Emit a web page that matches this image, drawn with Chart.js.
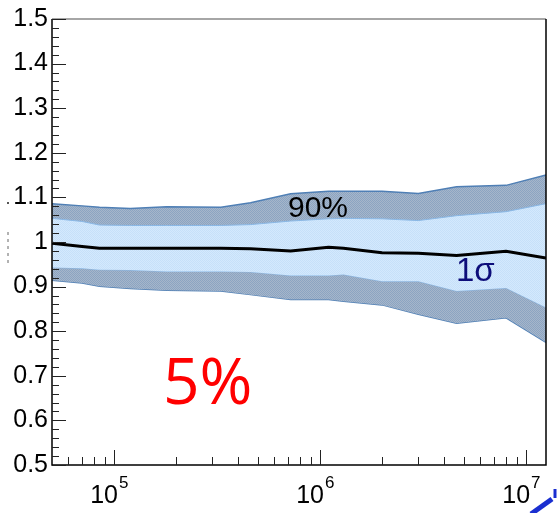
<!DOCTYPE html>
<html>
<head>
<meta charset="utf-8">
<script src="https://cdn.jsdelivr.net/npm/chart.js@4/dist/chart.umd.min.js"></script>
<style>
html, body { margin: 0; padding: 0; background: #fff; }
</style>
</head>
<body>
<canvas id="chart" width="557" height="513"></canvas>
<script>
// x positions of the band points
var xs = [5e4, 7e4, 8.5e4, 1.2e5, 1.8e5, 3.3e5, 4.6e5, 7.2e5, 1.1e6, 1.3e6, 2e6, 3e6, 4.6e6, 8e6, 1.25e7];
var median = [0.997, 0.990, 0.986, 0.986, 0.986, 0.986, 0.985, 0.980, 0.988, 0.986, 0.976, 0.975, 0.970, 0.979, 0.964];
var sigmaUp = [1.053, 1.046, 1.038, 1.037, 1.037, 1.037, 1.039, 1.047, 1.052, 1.053, 1.052, 1.048, 1.059, 1.068, 1.086];
var sigmaLow = [0.943, 0.941, 0.938, 0.937, 0.934, 0.934, 0.933, 0.925, 0.925, 0.927, 0.912, 0.912, 0.890, 0.897, 0.853];
var ninetyUp = [1.086, 1.081, 1.078, 1.075, 1.079, 1.078, 1.088, 1.108, 1.114, 1.114, 1.114, 1.109, 1.124, 1.127, 1.150];
var ninetyLow = [0.914, 0.908, 0.901, 0.896, 0.892, 0.890, 0.882, 0.871, 0.871, 0.867, 0.859, 0.838, 0.818, 0.830, 0.775];
var xDecades = [5, 6, 7];

function pts(vals) {
    return vals.map(function (v, i) { return { x: xs[i], y: v }; });
}

function makePattern(a, b) {
    var p = document.createElement('canvas');
    p.width = 2; p.height = 2;
    var c = p.getContext('2d');
    c.fillStyle = a; c.fillRect(0, 0, 2, 2);
    c.fillStyle = b; c.fillRect(0, 0, 1, 1); c.fillRect(1, 1, 1, 1);
    return c.createPattern(p, 'repeat');
}

var ctx = document.getElementById('chart').getContext('2d');
var outerFill = makePattern('#a6b6ca', '#8ba4c2');
var innerFill = makePattern('#d4e9fd', '#c6e0f9');

var framePlugin = {
    id: 'frame',
    afterDraw: function (chart) {
        var c = chart.ctx, a = chart.chartArea;
        var xs_ = chart.scales.x, ys_ = chart.scales.y;
        c.save();
        // frame
        c.lineWidth = 1.5;
        c.strokeStyle = '#888';
        c.beginPath(); c.moveTo(a.left, a.top); c.lineTo(a.right, a.top); c.stroke();
        c.strokeStyle = '#000';
        c.beginPath();
        c.moveTo(a.right, a.top); c.lineTo(a.right, a.bottom);
        c.lineTo(a.left, a.bottom); c.lineTo(a.left, a.top);
        c.stroke();

        // y ticks (inside)
        c.lineWidth = 1;
        c.strokeStyle = '#222';
        ys_.ticks.forEach(function (t) {
            var y = Math.round(ys_.getPixelForValue(t.value)) + 0.5;
            var major = Math.abs(t.value * 10 - Math.round(t.value * 10)) < 1e-6;
            c.beginPath(); c.moveTo(a.left, y); c.lineTo(a.left + (major ? 14 : 7), y); c.stroke();
        });
        // x ticks (inside)
        xs_.ticks.forEach(function (t) {
            var m = t.value / Math.pow(10, Math.floor(Math.log10(t.value) + 1e-9));
            if (Math.abs(m - Math.round(m)) > 1e-6) return;
            var x = Math.round(xs_.getPixelForValue(t.value)) + 0.5;
            if (x < a.left + 2 || x > a.right - 2) return;
            var major = Math.abs(m - 1) < 1e-6;
            c.beginPath(); c.moveTo(x, a.bottom); c.lineTo(x, a.bottom - (major ? 15 : 8)); c.stroke();
        });

        // x labels 10^n
        c.fillStyle = '#000';
        c.textBaseline = 'alphabetic';
        xDecades.forEach(function (p) {
            var x = xs_.getPixelForValue(Math.pow(10, p));
            c.font = '25px "Liberation Sans", Arial, sans-serif';
            c.textAlign = 'right';
            c.fillText('10', x + 4, 503);
            c.font = '17px "Liberation Sans", Arial, sans-serif';
            c.textAlign = 'left';
            c.fillText(String(p), x + 5, 488);
        });

        // annotations
        c.textAlign = 'left';
        c.font = '30px "Liberation Sans", Arial, sans-serif';
        c.fillStyle = '#000';
        c.fillText('90%', 288, 217);
        c.font = '33px "Liberation Sans", Arial, sans-serif';
        c.fillStyle = '#0d0d7a';
        c.fillText('1\u03c3', 456, 281);
        c.font = '64px "Open Sans", sans-serif';
        c.fillStyle = '#ff0000';
        c.fillText('5%', 163, 404);

        // stray marks at the edges of the crop
        c.fillStyle = '#555';
        c.fillRect(7, 202, 2, 2);
        c.setLineDash([3, 4]);
        c.strokeStyle = '#666';
        c.beginPath(); c.moveTo(8, 232); c.lineTo(8, 264); c.stroke();
        c.setLineDash([]);
        c.strokeStyle = '#1a2fd0';
        c.lineWidth = 5;
        c.beginPath(); c.moveTo(531, 514); c.lineTo(552, 499); c.stroke();
        c.lineWidth = 3;
        c.beginPath(); c.moveTo(555, 489); c.lineTo(555, 498); c.stroke();
        c.restore();
    }
};

var chart = new Chart(ctx, {
    type: 'line',
    data: {
        datasets: [
            { data: pts(median), borderColor: '#000', borderWidth: 3, pointRadius: 0, fill: false },
            { data: pts(sigmaUp), borderColor: '#8ab8e6', borderWidth: 1, pointRadius: 0, backgroundColor: innerFill, fill: '+1' },
            { data: pts(sigmaLow), borderColor: '#8ab8e6', borderWidth: 1, pointRadius: 0, fill: false },
            { data: pts(ninetyUp), borderColor: '#4f7fb5', borderWidth: 1.5, pointRadius: 0, backgroundColor: outerFill, fill: '+1' },
            { data: pts(ninetyLow), borderColor: '#4f7fb5', borderWidth: 1.5, pointRadius: 0, fill: false }
        ]
    },
    options: {
        responsive: false,
        animation: false,
        layout: { padding: { top: 16, right: 11, left: 0, bottom: 0 } },
        plugins: { legend: { display: false }, tooltip: { enabled: false } },
        elements: { line: { tension: 0 } },
        scales: {
            x: {
                type: 'logarithmic',
                min: 5e4,
                max: 1.25e7,
                grid: { display: false },
                border: { display: false },
                ticks: { display: false, autoSkip: false },
                afterFit: function (s) { s.height = 48; }
            },
            y: {
                min: 0.5,
                max: 1.5,
                grid: { display: false, drawTicks: false },
                border: { display: false },
                ticks: {
                    stepSize: 0.02,
                    autoSkip: false,
                    padding: 4,
                    color: '#000',
                    font: { family: '"Liberation Sans", Arial, sans-serif', size: 25 },
                    callback: function (v) {
                        if (Math.abs(v * 10 - Math.round(v * 10)) > 1e-6) return '';
                        return String(Number(v.toFixed(1)));
                    }
                },
                afterFit: function (s) { s.width = 52; }
            }
        }
    },
    plugins: [framePlugin]
});
</script>
</body>
</html>
